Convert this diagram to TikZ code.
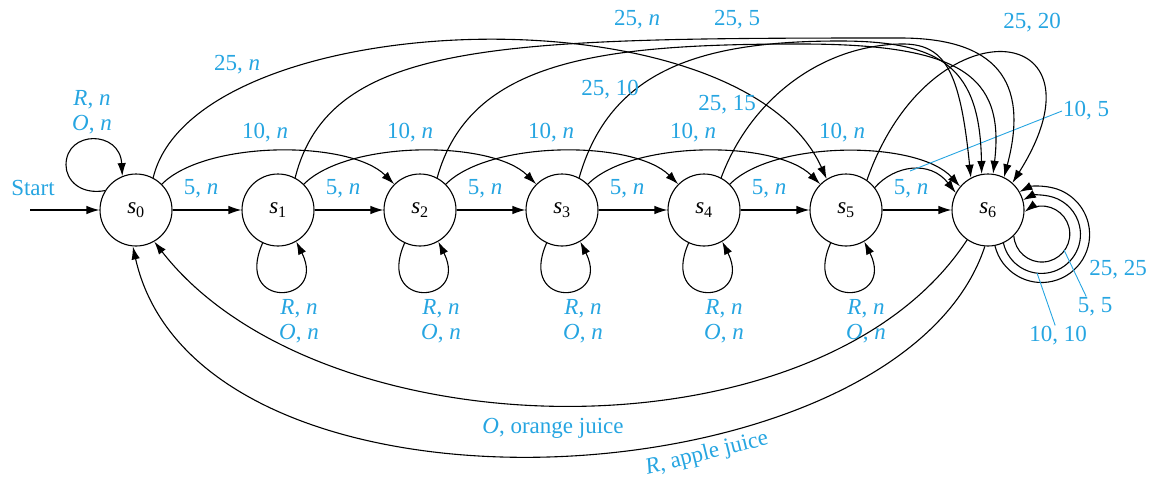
\documentclass[tikz,border=0pt]{standalone}
\usepackage{fontspec}
\setmainfont{Liberation Serif}
\usetikzlibrary{arrows.meta}
\definecolor{lbl}{RGB}{38,165,225}
\begin{document}
\begin{tikzpicture}[x=1pt,y=-1pt,
  every node/.style={font=\fontsize{23}{25}\selectfont},
  stnode/.style={draw, circle, minimum size=72pt, inner sep=0pt, line width=1.1pt},
  tr/.style={line width=1.1pt, -{Latex[length=13pt,width=8.5pt]}},
  lab/.style={text=lbl, inner sep=1pt},
  ptr/.style={draw=lbl, line width=0.9pt}]
\useasboundingbox (0,0) rectangle (1153,479);

% states
\node[stnode] (s0) at (136,210) {\textit{s}\textsubscript{0}};
\node[stnode] (s1) at (278,210) {\textit{s}\textsubscript{1}};
\node[stnode] (s2) at (420,210) {\textit{s}\textsubscript{2}};
\node[stnode] (s3) at (562,210) {\textit{s}\textsubscript{3}};
\node[stnode] (s4) at (704,210) {\textit{s}\textsubscript{4}};
\node[stnode] (s5) at (846,210) {\textit{s}\textsubscript{5}};
\node[stnode] (s6) at (988,210) {\textit{s}\textsubscript{6}};

% start
\coordinate (st) at (30,210);
\draw[tr] (st) -- (s0);
\node[lab] (lstart) at (33,188) {Start};

% 5 cents
\draw[tr] (s0) -- (s1);
\draw[tr] (s1) -- (s2);
\draw[tr] (s2) -- (s3);
\draw[tr] (s3) -- (s4);
\draw[tr] (s4) -- (s5);
\draw[tr] (s5) -- (s6);
\node[lab] (a01) at (201,189) {5, \textit{n}};
\node[lab] (a12) at (343,189) {5, \textit{n}};
\node[lab] (a23) at (485,189) {5, \textit{n}};
\node[lab] (a34) at (627,189) {5, \textit{n}};
\node[lab] (a45) at (769,189) {5, \textit{n}};
\node[lab] (a56) at (911,189) {5, \textit{n}};

% 10 cents
\draw[tr] (s0.45) .. controls (206,140) and (350,140) .. (s2.135);
\draw[tr] (s1.45) .. controls (348,140) and (492,140) .. (s3.135);
\draw[tr] (s2.45) .. controls (490,140) and (634,140) .. (s4.135);
\draw[tr] (s3.45) .. controls (632,140) and (776,140) .. (s5.135);
\draw[tr] (s4.45) .. controls (774,140) and (918,140) .. (s6.140);
\draw[tr] (s5.38) .. controls (895,165) and (930,160) .. (s6.152);
\node[lab] (b02) at (265,133) {10, \textit{n}};
\node[lab] (b13) at (410,133) {10, \textit{n}};
\node[lab] (b24) at (551,133) {10, \textit{n}};
\node[lab] (b35) at (693,133) {10, \textit{n}};
\node[lab] (b46) at (842,133) {10, \textit{n}};
\node[lab, anchor=west] (b56) at (1062,111) {10, 5};
\coordinate (p105) at (910,171);
\draw[ptr] (b56.west) -- (p105);

% 25 cents
\draw[tr] (s0.62) .. controls (195,5) and (740,-15) .. (s5.122);
\draw[tr] (s1.62) .. controls (330,40) and (500,38) .. (900,38) .. controls (995,38) and (1030,80) .. (s6.64);
\draw[tr] (s2.62) .. controls (470,60) and (600,44) .. (800,44) .. controls (960,44) and (1005,75) .. (s6.82);
\draw[tr] (s3.62) .. controls (610,70) and (700,41) .. (840,41) .. controls (945,41) and (980,70) .. (s6.100);
\draw[tr] (s4.62) .. controls (750,100) and (820,46) .. (900,44) .. controls (945,43) and (960,70) .. (s6.118);
\draw[tr] (s5.55) .. controls (930,0) and (1115,20) .. (s6.48);
\node[lab] (c05) at (237,65) {25, \textit{n}};
\node[lab] (c16) at (637,20) {25, \textit{n}};
\node[lab] (c26) at (737,20) {25, 5};
\node[lab] (c36) at (610,90) {25, 10};
\node[lab] (c46) at (727,105) {25, 15};
\node[lab] (c56) at (1032,23) {25, 20};

% self loops
\draw[tr] (s0.148) .. controls (80,195) and (66,180) .. (66,165) .. controls (66,130) and (120,130) .. (s0.112);
\node[lab, align=center] (r0) at (92,112) {\textit{R}, \textit{n}\\\textit{O}, \textit{n}};
\draw[tr] (s1.-115) .. controls (233,310) and (328,305) .. (s1.-60);
\draw[tr] (s2.-115) .. controls (375,310) and (470,305) .. (s2.-60);
\draw[tr] (s3.-115) .. controls (517,310) and (612,305) .. (s3.-60);
\draw[tr] (s4.-115) .. controls (659,310) and (754,305) .. (s4.-60);
\draw[tr] (s5.-115) .. controls (801,310) and (896,305) .. (s5.-60);
\node[lab, align=center] (r1) at (299,321) {\textit{R}, \textit{n}\\\textit{O}, \textit{n}};
\node[lab, align=center] (r2) at (441,321) {\textit{R}, \textit{n}\\\textit{O}, \textit{n}};
\node[lab, align=center] (r3) at (583,321) {\textit{R}, \textit{n}\\\textit{O}, \textit{n}};
\node[lab, align=center] (r4) at (724,321) {\textit{R}, \textit{n}\\\textit{O}, \textit{n}};
\node[lab, align=center] (r5) at (866,321) {\textit{R}, \textit{n}\\\textit{O}, \textit{n}};

% s6 loops
\draw[tr] (s6.-45.8) arc[start angle=176.3, end angle=-127.6, radius=28];
\draw[tr] (s6.-65.2) arc[start angle=167.1, end angle=-118.3, radius=39];
\draw[tr] (s6.-79.8) arc[start angle=166.3, end angle=-117.5, radius=48];
\node[lab] (d25) at (1118,270) {25, 25};
\node[lab] (d5) at (1095,307) {5, 5};
\node[lab] (d10) at (1058,336) {10, 10};
\coordinate (p55) at (1064,250);
\coordinate (p1010) at (1037,273);
\draw[ptr] (d5.130) -- (p55);
\draw[ptr] (d10.105) -- (p1010);

% juice
\draw[tr] (s6.-125) .. controls (820,465) and (320,455) .. (s0.-60);
\draw[tr] (s6.-95) .. controls (900,505) and (200,545) .. (s0.-95);
\node[lab] (oj) at (553,428) {\textit{O}, orange juice};
\node[lab, rotate=14] (aj) at (707,454) {\textit{R}, apple juice};
\end{tikzpicture}
\end{document}
